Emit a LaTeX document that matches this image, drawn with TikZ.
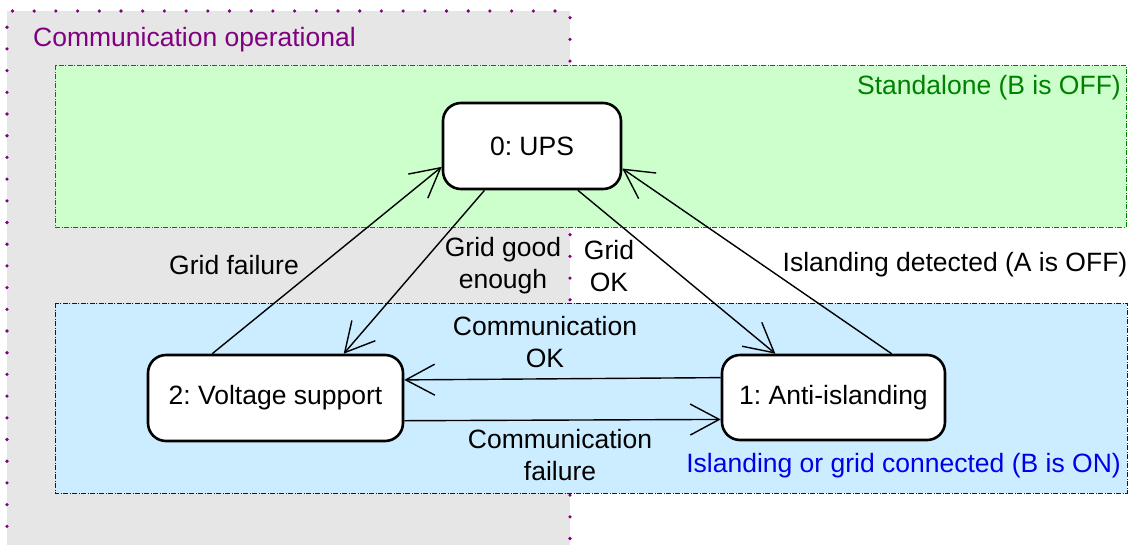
\documentclass[tikz,border=0pt]{standalone}
\usepackage{fontspec}
\setmainfont{Liberation Sans}
\usetikzlibrary{arrows.meta,positioning}
\definecolor{opgray}{RGB}{230,230,230}
\definecolor{oppurple}{RGB}{128,0,128}
\definecolor{standgreen}{RGB}{0,128,0}
\definecolor{standfill}{RGB}{204,255,204}
\definecolor{islblue}{RGB}{0,0,230}
\definecolor{islfill}{RGB}{204,236,255}
\tikzset{
  statebox/.style={draw,line width=2.6pt,rounded corners=18pt,fill=white,
    inner sep=0pt},
  trans/.style={line width=1.4pt,-{Straight Barb[length=29pt,width=31pt,line width=1.4pt]}},
  lbl/.style={align=center,inner sep=0pt},
  zone/.style={line width=0.9pt,dash pattern=on 5pt off 1.5pt on 1pt off 1.5pt}
}
\frenchspacing
\begin{document}
\begin{tikzpicture}[x=1pt,y=-1pt,
    every node/.style={font=\fontsize{26.5}{32}\selectfont}]
  \useasboundingbox (0,0) rectangle (1135,544);
  % communication operational area
  \fill[opgray] (7,11) rectangle (570,548);
  \draw[oppurple,line width=3.6pt,line cap=round,dash pattern=on 0pt off 21.7pt]
    (7,548) -- (7,11) -- (570,11) -- (570,548);
  \node[oppurple,anchor=west,lbl] (commop) at (33,40) {Communication operational};
  % modes
  \draw[zone,standgreen,fill=standfill] (55,65) rectangle (1126,227);
  \draw[zone,islblue,fill=islfill] (55,303) rectangle (1127,493);
  \node[standgreen,anchor=east,lbl] (standalone) at (1121,88) {Standalone (B is OFF)};
  \node[islblue,anchor=east,lbl] (island) at (1121,466)
    {Islanding or grid connected (B is ON)};
  % states
  \node[statebox,minimum width=178pt,minimum height=86pt] (ups) at (532,146) {0: UPS};
  \node[statebox,minimum width=255pt,minimum height=86pt] (vs) at (275.5,398)
    {2: Voltage support};
  \node[statebox,minimum width=223pt,minimum height=85pt] (ai) at (833.5,397.5)
    {1: Anti-islanding};
  % transitions
  \draw[trans] (vs.145.5) -- (ups.193.7);
  \draw[trans] (ups.223.1) -- (vs.33.3);
  \draw[trans] (ups.316.3) -- (ai.143);
  \draw[trans] (ai.37) -- (ups.346.3);
  \draw[trans] (ai.170.1) -- (vs.8.9);
  \draw[trans] (vs.350.2) -- (ai.191.4);
  \node[lbl] (gridfail) at (234,265) {Grid failure};
  \node[lbl] (gridgood) at (503,266) {Grid good\\enough};
  \node[lbl] (gridok) at (609,266) {Grid\\OK};
  \node[lbl] (islanddet) at (955,265) {Islanding detected (A is OFF)};
  \node[lbl] (commok) at (545,342) {Communication\\OK};
  \node[lbl] (commfail) at (560,455) {Communication\\failure};
\end{tikzpicture}
\end{document}
